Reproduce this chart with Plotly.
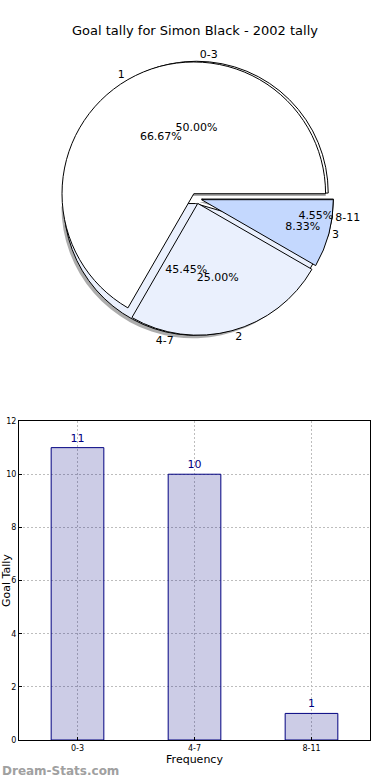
import plotly.graph_objects as go

# ---- data ----
chart_title = "Goal tally for Simon Black - 2002 tally"
range_labels = ["0-3", "4-7", "8-11"]
range_counts = [11, 10, 1]
tally_labels = ["1", "2", "3"]
tally_counts = [8, 3, 1]
bar_categories = ["0-3", "4-7", "8-11"]
bar_values = [11, 10, 1]
y_ticks = [0, 2, 4, 6, 8, 10, 12]
x_title = "Frequency"
y_title = "Goal Tally"
watermark = "Dream-Stats.com"

# ---- style ----
FONT = "DejaVu Sans"
slice_colors = ["#ffffff", "#eaf0fd", "#c4d8fe"]
PULL = 0.04
pie_dom_x = [0.115, 0.896]
pie_dom_y = [0.543, 0.921]
shadow_dom_x = [pie_dom_x[0] - 0.007, pie_dom_x[1] - 0.007]
shadow_dom_y = [pie_dom_y[0] - 0.004, pie_dom_y[1] - 0.004]


def start_rotation(values):
    # first slice starts at 3 o'clock and runs counter-clockwise (matplotlib default)
    return 90 - 360 * values[0] / sum(values)


fig = go.Figure()

common = dict(sort=False, direction="counterclockwise",
              hoverinfo="skip", showlegend=False)

# shadow
fig.add_trace(go.Pie(labels=range_labels, values=range_counts,
                     rotation=start_rotation(range_counts),
                     pull=[PULL] * 3, domain=dict(x=shadow_dom_x, y=shadow_dom_y),
                     marker=dict(colors=["rgba(90,90,90,0.5)"] * 3, line=dict(width=0)),
                     textinfo="none", **common))


def add_pie(labels, values):
    fig.add_trace(go.Pie(labels=labels, values=values, pull=[PULL] * 3,
                         rotation=start_rotation(values),
                         domain=dict(x=pie_dom_x, y=pie_dom_y),
                         marker=dict(colors=slice_colors, line=dict(color="#000000", width=1)),
                         texttemplate="%{label}", textposition="outside",
                         outsidetextfont=dict(family=FONT, size=11, color="#000000"),
                         **common))


def add_pct(labels, values):
    fig.add_trace(go.Pie(labels=labels, values=values, pull=[PULL] * 3,
                         rotation=start_rotation(values),
                         domain=dict(x=pie_dom_x, y=pie_dom_y),
                         marker=dict(colors=["rgba(0,0,0,0)"] * 3, line=dict(width=0)),
                         texttemplate="%{percent:.2%}", textposition="inside",
                         insidetextorientation="horizontal",
                         insidetextfont=dict(family=FONT, size=11, color="#000000"),
                         **common))


add_pie(range_labels, range_counts)
add_pie(tally_labels, tally_counts)
add_pct(range_labels, range_counts)
add_pct(tally_labels, tally_counts)

# bar chart
fig.add_trace(go.Bar(x=bar_categories, y=bar_values, width=0.45,
                     marker=dict(color="rgba(0,0,128,0.2)", line=dict(color="#000080", width=1)),
                     text=bar_values, texttemplate="%{y}", textposition="outside",
                     textfont=dict(family=FONT, size=11, color="#000080"),
                     cliponaxis=False, showlegend=False, hoverinfo="skip"))

grid = dict(showgrid=True, gridcolor="#bdbdbd", griddash="2px,2px", gridwidth=1)

fig.update_layout(
    width=390, height=780,
    margin=dict(l=19, r=20, t=0, b=40),
    paper_bgcolor="white", plot_bgcolor="white",
    font=dict(family=FONT, color="#000000"),
    uniformtext=dict(minsize=11, mode="show"),
    title=dict(text=chart_title, x=0.5, xanchor="center", y=1 - 30 / 780,
               yanchor="middle", font=dict(family=FONT, size=13, color="#000000")),
    xaxis=dict(domain=[0, 1], range=[-0.5, 2.5], type="category",
               showline=True, linecolor="#000000", linewidth=1, mirror=True,
               ticks="inside", ticklen=3, tickcolor="#000000",
               tickfont=dict(family=FONT, size=8, color="#000000"),
               title=dict(text=x_title, standoff=2, font=dict(family=FONT, size=11)),
               automargin=False, zeroline=False, **grid),
    yaxis=dict(domain=[0, 0.431], range=[0, 12], tickvals=y_ticks,
               showline=True, linecolor="#000000", linewidth=1, mirror=True,
               ticks="inside", ticklen=3, tickcolor="#000000",
               tickfont=dict(family=FONT, size=8, color="#000000"),
               title=dict(text=y_title, standoff=16, font=dict(family=FONT, size=11)),
               automargin=False, zeroline=False, **grid),
    annotations=[dict(text=watermark, xref="paper", yref="paper",
                      x=-19 / 351, y=-31 / 740, xanchor="left", yanchor="middle",
                      showarrow=False,
                      font=dict(family=FONT, size=12, color="#a0a0a0", weight="bold"))],
)

fig.write_html("out.html", config={"displayModeBar": False},
               post_script="document.body.style.margin='0';")
